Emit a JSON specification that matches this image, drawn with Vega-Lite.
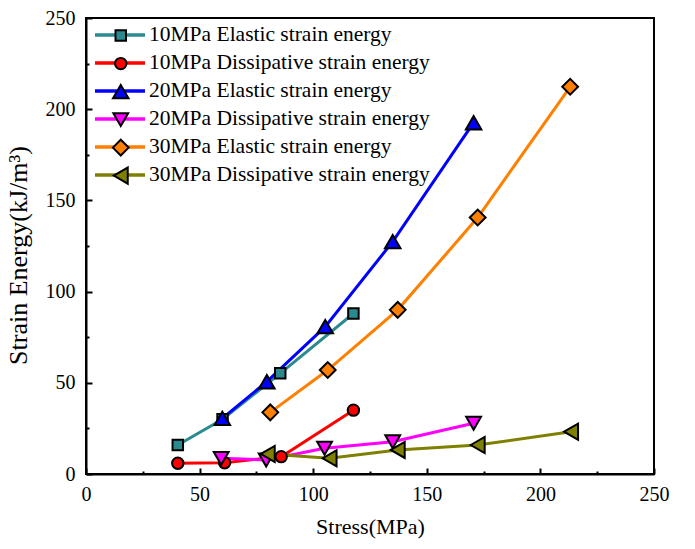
{
  "$schema": "https://vega.github.io/schema/vega-lite/v6.json",
  "width": 568,
  "height": 456,
  "autosize": {"type": "none"},
  "padding": {"left": 86, "top": 18, "right": 41, "bottom": 75},
  "background": "white",
  "config": {
    "font": "Liberation Serif",
    "view": {"stroke": "black", "strokeWidth": 2},
    "axis": {"grid": false, "labelFont": "Liberation Serif", "titleFont": "Liberation Serif", "labelColor": "black", "titleColor": "black", "titleFontWeight": "normal"},
    "legend": {"labelFont": "Liberation Serif", "labelColor": "black"}
  },
  "data": {
    "values": [
      {"series": "10MPa Elastic strain energy", "stress": 40.4, "energy": 15.9},
      {"series": "10MPa Elastic strain energy", "stress": 60.1, "energy": 30.0},
      {"series": "10MPa Elastic strain energy", "stress": 85.5, "energy": 55.2},
      {"series": "10MPa Elastic strain energy", "stress": 117.7, "energy": 88.0},
      {"series": "10MPa Dissipative strain energy", "stress": 40.4, "energy": 5.9},
      {"series": "10MPa Dissipative strain energy", "stress": 61.0, "energy": 6.2},
      {"series": "10MPa Dissipative strain energy", "stress": 85.9, "energy": 9.5},
      {"series": "10MPa Dissipative strain energy", "stress": 117.7, "energy": 35.0},
      {"series": "20MPa Elastic strain energy", "stress": 60.0, "energy": 30.5},
      {"series": "20MPa Elastic strain energy", "stress": 79.6, "energy": 50.6},
      {"series": "20MPa Elastic strain energy", "stress": 105.3, "energy": 80.8},
      {"series": "20MPa Elastic strain energy", "stress": 135.0, "energy": 127.4},
      {"series": "20MPa Elastic strain energy", "stress": 170.6, "energy": 192.6},
      {"series": "20MPa Dissipative strain energy", "stress": 59.5, "energy": 8.6},
      {"series": "20MPa Dissipative strain energy", "stress": 79.3, "energy": 7.7},
      {"series": "20MPa Dissipative strain energy", "stress": 105.0, "energy": 14.1},
      {"series": "20MPa Dissipative strain energy", "stress": 135.0, "energy": 17.7},
      {"series": "20MPa Dissipative strain energy", "stress": 170.6, "energy": 27.8},
      {"series": "30MPa Elastic strain energy", "stress": 81.1, "energy": 33.8},
      {"series": "30MPa Elastic strain energy", "stress": 106.4, "energy": 57.0},
      {"series": "30MPa Elastic strain energy", "stress": 137.2, "energy": 90.0},
      {"series": "30MPa Elastic strain energy", "stress": 172.4, "energy": 140.6},
      {"series": "30MPa Elastic strain energy", "stress": 213.1, "energy": 212.3},
      {"series": "30MPa Dissipative strain energy", "stress": 80.0, "energy": 11.0},
      {"series": "30MPa Dissipative strain energy", "stress": 107.2, "energy": 8.6},
      {"series": "30MPa Dissipative strain energy", "stress": 137.2, "energy": 13.2},
      {"series": "30MPa Dissipative strain energy", "stress": 172.4, "energy": 15.9},
      {"series": "30MPa Dissipative strain energy", "stress": 213.5, "energy": 23.2}
    ]
  },
  "resolve": {"axis": {"x": "independent", "y": "independent"}},
  "layer": [
    {
      "mark": {"type": "line", "strokeWidth": 3},
      "encoding": {
        "x": {"field": "stress", "type": "quantitative", "scale": {"domain": [0, 250], "nice": false},
          "axis": {"orient": "bottom", "values": [0, 50, 100, 150, 200, 250], "ticks": true, "tickSize": -6, "tickWidth": 2, "tickColor": "black", "domainColor": "black", "domainWidth": 2, "labelFont": "Liberation Serif", "labelFontSize": 20, "labelPadding": 16, "title": "Stress(MPa)", "titleFont": "Liberation Serif", "titleFontSize": 22, "titleBaseline": "alphabetic", "titleY": 59, "labelFlush": false}},
        "y": {"field": "energy", "type": "quantitative", "scale": {"domain": [0, 250], "nice": false},
          "axis": {"orient": "left", "values": [0, 50, 100, 150, 200, 250], "ticks": true, "tickSize": -6, "tickWidth": 2, "tickColor": "black", "domainColor": "black", "domainWidth": 2, "labelFont": "Liberation Serif", "labelFontSize": 20, "labelPadding": 17, "title": "Strain Energy(kJ/m³)", "titleFont": "Liberation Serif", "titleFontSize": 26, "titleBaseline": "alphabetic", "titleX": -60, "titleY": 237, "titleAngle": -90, "labelFlush": false}},
        "stroke": {"field": "series", "type": "nominal",
          "sort": ["10MPa Elastic strain energy", "10MPa Dissipative strain energy", "20MPa Elastic strain energy", "20MPa Dissipative strain energy", "30MPa Elastic strain energy", "30MPa Dissipative strain energy"],
          "scale": {"range": ["#2A8A90", "#FF0000", "#0000FF", "#FF00FF", "#FF8000", "#808000"]},
          "legend": {"orient": "none", "legendX": 7, "legendY": 3.5, "title": null, "padding": 0, "symbolType": "stroke", "symbolSize": 2500, "symbolStrokeWidth": 3.5, "labelFont": "Liberation Serif", "labelFontSize": 21.5, "labelOffset": 2, "clipHeight": 27.2, "rowPadding": 0, "labelLimit": 400}}
      }
    },
    {
      "mark": {"type": "point", "filled": true, "opacity": 1, "stroke": "black", "strokeWidth": 2},
      "encoding": {
        "x": {"field": "stress", "type": "quantitative",
          "axis": {"orient": "bottom", "values": [25, 75, 125, 175, 225], "labels": false, "domain": false, "title": null, "ticks": true, "tickColor": "black", "tickWidth": 2, "tickSize": -3}},
        "y": {"field": "energy", "type": "quantitative",
          "axis": {"orient": "left", "values": [25, 75, 125, 175, 225], "labels": false, "domain": false, "title": null, "ticks": true, "tickColor": "black", "tickWidth": 2, "tickSize": -3}},
        "fill": {"field": "series", "type": "nominal",
          "scale": {"domain": ["10MPa Elastic strain energy", "10MPa Dissipative strain energy", "20MPa Elastic strain energy", "20MPa Dissipative strain energy", "30MPa Elastic strain energy", "30MPa Dissipative strain energy"],
            "range": ["#2A8A90", "#FF0000", "#0000FF", "#FF00FF", "#FF8000", "#808000"]},
          "legend": {"orient": "top-left", "offset": 3.5, "title": null, "padding": 0, "symbolOffset": 20, "symbolStrokeColor": "black", "symbolStrokeWidth": 2, "labelFontSize": 21.5, "labelExpr": "''", "clipHeight": 27.2, "rowPadding": 0}},
        "shape": {"field": "series", "type": "nominal",
          "scale": {"domain": ["10MPa Elastic strain energy", "10MPa Dissipative strain energy", "20MPa Elastic strain energy", "20MPa Dissipative strain energy", "30MPa Elastic strain energy", "30MPa Dissipative strain energy"],
            "range": ["square", "circle", "triangle-up", "triangle-down", "diamond", "triangle-left"]}},
        "size": {"field": "series", "type": "nominal",
          "scale": {"type": "ordinal", "domain": ["10MPa Elastic strain energy", "10MPa Dissipative strain energy", "20MPa Elastic strain energy", "20MPa Dissipative strain energy", "30MPa Elastic strain energy", "30MPa Dissipative strain energy"],
            "range": [110, 130, 240, 220, 250, 260]}}
      }
    }
  ]
}
